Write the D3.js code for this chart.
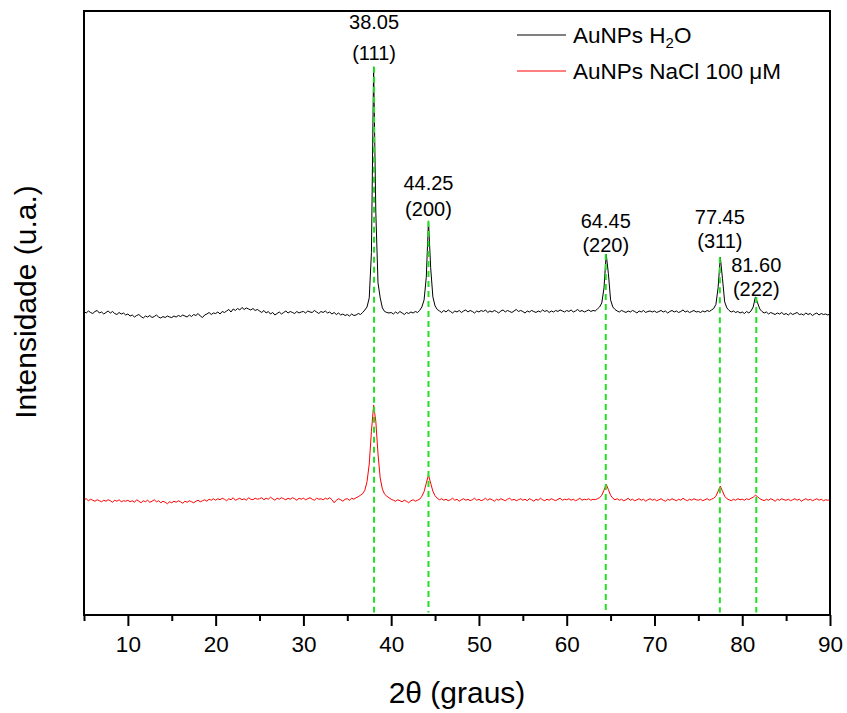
<!DOCTYPE html>
<html><head><meta charset="utf-8">
<script src="https://cdn.jsdelivr.net/npm/d3@7"></script>
<style>body{margin:0;background:#fff}svg{display:block}</style>
</head><body>
<svg id="c" width="847" height="713"></svg>
<script>
// 2θ grid: 5.00 … 90.00 in 0.25° steps
const twoThetaStart = 5, twoThetaStep = 0.25;

// AuNPs H2O (stacked, a.u.)
const h2oIntensity = [
603,600,604,601,599,603,605,600,602,598,601,604,600,603,599,597,601,598,600,596,
598,594,596,592,595,597,593,590,594,592,595,591,593,596,592,590,593,591,594,592,
591,594,592,595,593,596,594,592,596,593,597,595,599,594,591,596,598,601,597,600,
599,602,598,603,601,604,607,602,608,605,609,606,611,607,610,608,606,609,605,607,
604,601,605,600,603,598,601,596,599,602,598,601,604,600,603,601,599,603,600,602,
603,600,604,602,601,605,602,599,603,601,604,600,602,598,601,597,600,596,598,595,
597,594,598,595,596,599,597,601,606,612,630,720,1089,800,660,630,610,603,601,600,
601,598,602,599,603,600,597,601,599,602,600,603,601,605,612,626,671,783,690,632,
614,607,604,601,605,602,606,603,600,604,602,605,601,604,606,602,605,603,600,604,
602,605,603,606,601,604,602,605,603,600,604,606,602,605,603,601,604,607,603,605,
603,600,604,602,605,603,601,604,602,606,603,605,601,604,602,605,603,606,604,602,
605,603,606,602,604,607,603,605,602,604,606,603,605,604,608,612,620,650,717,678,
626,612,607,604,602,605,603,601,604,602,605,603,600,604,602,605,601,603,604,602,
604,601,603,605,602,604,600,603,605,602,604,601,603,606,602,604,601,603,605,602,
603,601,604,602,605,603,606,609,617,650,711,668,622,610,605,602,604,601,603,600,
602,599,603,600,604,612,632,620,608,603,600,602,598,601,599,597,600,598,601,597,
599,596,600,597,599,601,597,598,596,600,597,599,595,598,600,596,599,597,598,596,
598
];

// AuNPs NaCl 100 µM (stacked, a.u.)
const naclIntensity = [
229,231,227,230,228,226,229,227,225,228,226,229,227,224,228,226,229,225,227,226,
228,225,227,224,229,226,223,227,225,228,224,226,229,225,227,223,226,224,221,225,
223,226,224,227,225,222,226,224,227,225,223,226,228,225,227,229,226,230,228,231,
228,231,229,232,230,227,231,229,233,228,230,232,229,231,228,233,230,229,232,230,
231,233,229,232,230,234,231,228,232,230,233,231,229,232,230,233,231,228,232,230,
232,229,231,233,230,228,232,230,231,229,232,230,233,229,223,228,231,229,226,230,
231,228,232,230,233,235,238,241,248,265,300,365,417,385,320,272,250,240,236,233,
230,228,226,229,227,225,228,226,223,227,229,226,228,230,236,245,262,278,262,246,
237,232,229,231,228,230,227,229,232,228,230,226,229,231,228,230,227,229,232,228,
230,227,229,232,228,231,229,226,230,228,231,229,227,230,232,228,230,227,229,231,
228,230,227,231,229,226,230,228,232,229,227,230,228,231,229,227,230,232,228,230,
229,231,228,230,227,229,232,228,230,229,231,228,230,229,231,233,238,248,260,249,
238,232,229,231,228,230,227,229,232,228,230,227,229,231,228,230,226,229,231,228,
230,227,229,231,228,226,230,228,231,229,227,230,228,232,229,227,230,228,231,229,
228,230,227,229,231,228,230,232,236,246,256,246,236,231,229,227,230,228,231,229,
230,228,231,229,232,234,238,235,231,229,227,230,228,231,229,226,230,228,231,229,
228,230,227,229,231,228,230,226,229,231,228,230,227,229,231,228,230,227,229,228,
229
];

const peakPositions = [38.05, 44.25, 64.45, 77.45, 81.60];
const peakValueLabels = ["38.05", "44.25", "64.45", "77.45", "81.60"];
const peakHklLabels = ["(111)", "(200)", "(220)", "(311)", "(222)"];
const xMajorTicks = [10, 20, 30, 40, 50, 60, 70, 80, 90];
const xMinorTicks = [5, 15, 25, 35, 45, 55, 65, 75, 85];
const seriesNames = ["AuNPs H", "AuNPs NaCl 100 μM"];
const seriesColors = ["#000000", "#ff0000"];

// layout
const labelGap = [7, 5, 2, 9, 1];      // px between peak tip and (hkl) baseline
const labelLead = [31, 26, 24, 24, 24]; // px between the two label lines
const m = {l: 84, r: 830, t: 11, b: 615};
const FONT = "'Liberation Sans', Arial, Helvetica, sans-serif";

const twoTheta = h2oIntensity.map((_, i) => twoThetaStart + i * twoThetaStep);
const x = d3.scaleLinear().domain([5, 90]).range([m.l, m.r]);
const y = d3.scaleLinear().domain([0, 1200]).range([m.b, m.t]);

const svg = d3.select("#c").style("font-family", FONT);

// series
const line = d3.line().x(d => x(d[0])).y(d => y(d[1]));
[[naclIntensity, seriesColors[1]], [h2oIntensity, seriesColors[0]]].forEach(([arr, col]) => {
  const data = arr.map((v, i) => [twoTheta[i], v]);
  svg.append("path").datum(data)
    .attr("fill", "none")
    .attr("stroke", col)
    .attr("stroke-width", 1)
    .attr("stroke-linejoin", "round")
    .attr("d", line);
});

// peak tips from the H2O series
const tipValue = p => d3.max(h2oIntensity.filter((v, i) => Math.abs(twoTheta[i] - p) <= 0.15));

// green reference lines
peakPositions.forEach(p => {
  svg.append("line")
    .attr("x1", x(p)).attr("x2", x(p))
    .attr("y1", y(tipValue(p))).attr("y2", y(5))
    .attr("stroke", "#22e022").attr("stroke-width", 2)
    .attr("stroke-dasharray", "6,4");
});

// peak labels
peakPositions.forEach((p, i) => {
  const base = y(tipValue(p)) - labelGap[i];
  svg.append("text").attr("x", x(p)).attr("y", base)
    .attr("text-anchor", "middle").attr("font-size", 20).text(peakHklLabels[i]);
  svg.append("text").attr("x", x(p)).attr("y", base - labelLead[i])
    .attr("text-anchor", "middle").attr("font-size", 20).text(peakValueLabels[i]);
});

// frame
svg.append("rect").attr("x", m.l).attr("y", m.t)
  .attr("width", m.r - m.l).attr("height", m.b - m.t)
  .attr("fill", "none").attr("stroke", "#000").attr("stroke-width", 2);

// x axis
const gx = svg.append("g").attr("transform", `translate(0,${m.b})`)
  .call(d3.axisBottom(x).tickValues(xMajorTicks).tickSize(11).tickPadding(10).tickFormat(d3.format("d")));
gx.select(".domain").remove();
gx.selectAll(".tick line").attr("stroke-width", 2);
gx.selectAll(".tick text").attr("font-size", 22.5).attr("font-family", FONT).attr("fill", "#000");
const gm = svg.append("g").attr("transform", `translate(0,${m.b})`)
  .call(d3.axisBottom(x).tickValues(xMinorTicks).tickSize(6).tickFormat(""));
gm.select(".domain").remove();
gm.selectAll(".tick line").attr("stroke-width", 2);

// axis titles
svg.append("text").attr("x", 457).attr("y", 703)
  .attr("text-anchor", "middle").attr("font-size", 30).text("2θ (graus)");
svg.append("text").attr("transform", "translate(36,302) rotate(-90)")
  .attr("text-anchor", "middle").attr("font-size", 30).text("Intensidade (u.a.)");

// legend
const lg = svg.append("g");
[0, 1].forEach(k => {
  const yy = 35 + k * 36;
  lg.append("line").attr("x1", 517).attr("x2", 566).attr("y1", yy).attr("y2", yy)
    .attr("stroke", seriesColors[k]).attr("stroke-width", 1);
  const t = lg.append("text").attr("x", 573).attr("y", yy + 8).attr("font-size", 22.5);
  t.append("tspan").text(seriesNames[k]);
  if (k === 0) {
    t.append("tspan").attr("font-size", 15).attr("dy", 5).text("2");
    t.append("tspan").attr("dy", -5).text("O");
  }
});
</script>
</body></html>
